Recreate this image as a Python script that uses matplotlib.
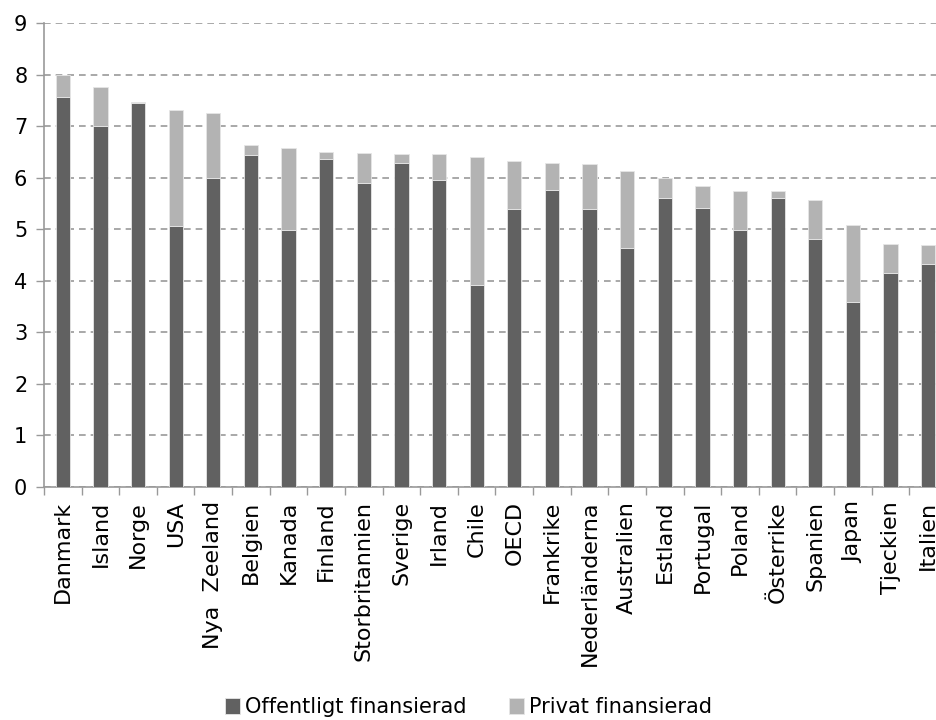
import numpy as np
import matplotlib.pyplot as plt

lander = ["Danmark", "Island", "Norge", "USA", "Nya  Zeeland", "Belgien", "Kanada",
          "Finland", "Storbritannien", "Sverige", "Irland", "Chile", "OECD",
          "Frankrike", "Nederländerna", "Australien", "Estland", "Portugal",
          "Poland", "Österrike", "Spanien", "Japan", "Tjeckien", "Italien"]
offentlig = [7.56, 7.00, 7.45, 5.07, 6.00, 6.43, 4.99, 6.37, 5.90, 6.29, 5.95, 3.91,
             5.39, 5.77, 5.39, 4.63, 5.61, 5.42, 4.98, 5.61, 4.82, 3.59, 4.15, 4.33]
privat = [0.43, 0.75, 0.01, 2.25, 1.26, 0.20, 1.59, 0.13, 0.57, 0.16, 0.50, 2.50,
          0.93, 0.51, 0.87, 1.49, 0.38, 0.42, 0.77, 0.14, 0.75, 1.50, 0.57, 0.37]

mork = "#616161"
ljus = "#b3b3b3"

fig = plt.figure(figsize=(9.37, 7.2), dpi=100)
ax = fig.add_axes([44 / 937, 1 - 487 / 720, (947 - 44) / 937, (487 - 23) / 720])

x = np.arange(len(lander))
ax.bar(x, offentlig, width=0.38, color=mork, edgecolor="#e6e6e6", linewidth=0.6,
       label="Offentligt finansierad", zorder=3)
ax.bar(x, privat, width=0.38, bottom=offentlig, color=ljus, edgecolor="#e6e6e6",
       linewidth=0.6, label="Privat finansierad", zorder=3)

ax.set_xlim(-0.5, len(lander) - 0.5)
ax.set_ylim(0, 9)
ax.set_yticks(range(10))
ax.yaxis.grid(True, linestyle=(0, (4, 3)), color="#999999", linewidth=1.2, zorder=0)

ax.set_xticks(x)
ax.set_xticklabels(lander, rotation=90, fontsize=16)
ax.set_xticks(np.arange(-0.5, len(lander)), minor=True)
ax.tick_params(axis="x", which="major", length=0, pad=10)
ax.tick_params(axis="x", which="minor", length=6, color="#999999", width=1)
ax.tick_params(axis="y", labelsize=15, length=6, color="#999999", width=1, pad=6)

for s in ["top", "right"]:
    ax.spines[s].set_visible(False)
for s in ["left", "bottom"]:
    ax.spines[s].set_color("#999999")
    ax.spines[s].set_linewidth(1.2)

fig.legend(loc="lower center", bbox_to_anchor=(0.5, -0.022), ncol=2, frameon=False,
           fontsize=15, handlelength=0.75, handleheight=0.8, handletextpad=0.25,
           columnspacing=2.0)

fig.savefig("out.png", dpi=100)
